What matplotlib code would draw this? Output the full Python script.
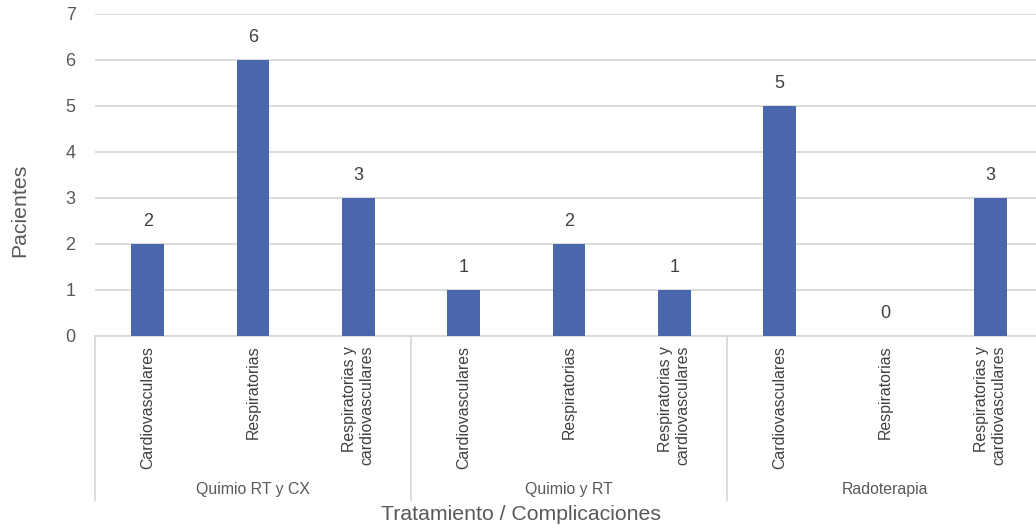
import matplotlib
matplotlib.use("Agg")
import matplotlib.pyplot as plt
import matplotlib.transforms as mtransforms

plt.rcParams['font.family'] = ['Liberation Sans', 'DejaVu Sans']

groups = ["Quimio RT y CX", "Quimio y RT", "Radoterapia"]
complications = ["Cardiovasculares", "Respiratorias", "Respiratorias y\ncardiovasculares"]
patients = [2, 6, 3, 1, 2, 1, 5, 0, 3]
yticks = [0, 1, 2, 3, 4, 5, 6, 7]

bar_color = "#4A66AC"
text_color = "#595959"
grid_color = "#D9D9D9"

W, H = 1036, 529
fig = plt.figure(figsize=(W / 100, H / 100), dpi=100)
# plot area runs a little past the right edge of the canvas
ax = fig.add_axes([95 / W, (H - 336) / H, (1043 - 95) / W, (336 - 14) / H])

labels = complications * len(groups)
x = list(range(len(patients)))
ax.bar(x, patients, width=0.31, color=bar_color, zorder=3)

for xi, v in zip(x, patients):
    ax.annotate(str(v), (xi, v), xytext=(0, 10), textcoords="offset points",
                ha="center", va="bottom", fontsize=13, color="#404040")

ax.set_xlim(-0.5, len(patients) - 0.5)
ax.set_ylim(0, 7)
ax.set_yticks(yticks)
ax.tick_params(axis="y", length=0, labelsize=13, labelcolor=text_color, pad=14)
ax.yaxis.grid(True, color=grid_color, linewidth=1.3, zorder=0)
ax.set_axisbelow(True)

ax.set_xticks(x)
ax.set_xticklabels(labels, rotation=90, va="top", ha="center",
                   multialignment="right", fontsize=11.4, color="#404040")
ax.tick_params(axis="x", length=0, pad=7)

for side in ["top", "right", "left"]:
    ax.spines[side].set_visible(False)
ax.spines["bottom"].set_color(grid_color)
ax.spines["bottom"].set_linewidth(1.3)

trans = mtransforms.blended_transform_factory(ax.transData, ax.transAxes)
n = len(complications)
for g in range(len(groups)):
    xs = g * n - 0.5
    ax.plot([xs, xs], [0, -0.509], transform=trans, color=grid_color,
            linewidth=1.3, clip_on=False)
    ax.text(g * n + (n - 1) / 2, -0.478, groups[g], transform=trans,
            ha="center", va="center", fontsize=11.4, color=text_color)

fig.text(521 / W, (H - 515) / H, "Tratamiento / Complicaciones",
         ha="center", va="center", fontsize=15.3, color=text_color)
fig.text(20 / W, (H - 210) / H, "Pacientes", rotation=90,
         ha="center", va="center", fontsize=15.3, color=text_color)

fig.savefig("out.png", dpi=100)
